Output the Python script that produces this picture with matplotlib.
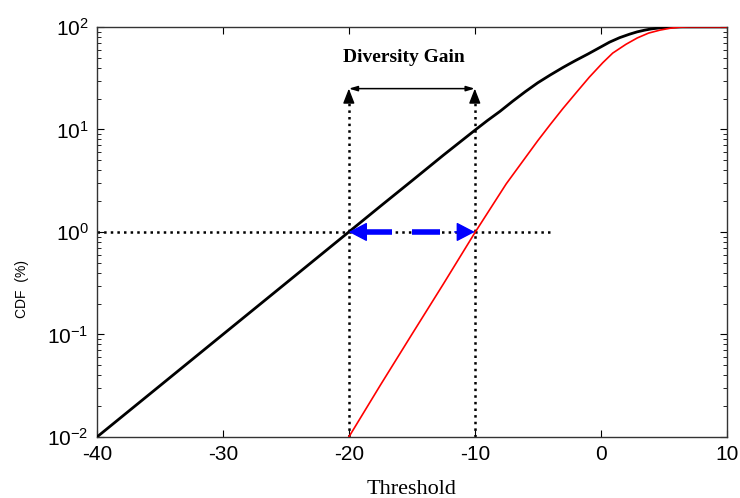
import matplotlib
matplotlib.use("Agg")
import matplotlib.pyplot as plt

# values
thr_single = [-40, -35, -30, -25, -20, -17.5, -15, -12.5, -10, -9, -8, -7, -6,
              -5, -4, -3, -2.5, -2, -1, 0.7, 1.5, 2.3, 2.9, 3.5, 4, 4.7, 5.5, 6.5, 10]
cdf_single = [0.01, 0.0316, 0.1, 0.316, 1.0, 1.78, 3.15, 5.6, 9.8, 12.2, 15.0, 18.8,
              23.3, 28.5, 34, 40.2, 43.5, 47, 54.5, 71, 78.5, 85, 89.5, 93, 95.5, 97.8,
              99.3, 100, 100]

thr_div = [-20, -17.5, -15, -12.5, -10, -7.5, -5, -4, -3, -1.9, -0.9, 0.16, 0.95, 2,
           2.9, 3.8, 4.7, 5.5, 6.3, 7, 10]
cdf_div = [0.01, 0.032, 0.1, 0.31, 0.98, 2.95, 7.76, 11.2, 16.0, 23.2, 32.4, 44.7,
           55.5, 67.6, 78, 87, 93, 97, 99.5, 100, 100]

gain_from, gain_to = -20, -10
ref_level = 1.0
arrow_level = 25
hline_end = -4

plt.rcParams["font.family"] = ["Liberation Sans", "DejaVu Sans"]
plt.rcParams["mathtext.fontset"] = "custom"
plt.rcParams["mathtext.rm"] = "Liberation Sans"
plt.rcParams["axes.unicode_minus"] = False

fig = plt.figure(figsize=(7.4, 4.98), dpi=100)
ax = fig.add_axes([0.131, 0.1225, 0.851, 0.8235])

ax.plot(thr_single, cdf_single, color="black", linewidth=2.0, zorder=3)
ax.plot(thr_div, cdf_div, color="red", linewidth=1.2, zorder=3)

# dotted guide lines
ax.plot([-40, hline_end], [ref_level, ref_level], color="black", linestyle=":",
        linewidth=1.8, zorder=2)
for xv in (gain_from, gain_to):
    ax.plot([xv, xv], [0.01, arrow_level * 0.9], color="black", linestyle=":",
            linewidth=1.8, zorder=2)
    ax.annotate("", xy=(xv, arrow_level), xytext=(xv, arrow_level * 0.8),
                arrowprops=dict(arrowstyle="-|>,head_length=0.9,head_width=0.35",
                                color="black", linewidth=1.0,
                                shrinkA=0, shrinkB=0), zorder=2)
ax.annotate("", xy=(gain_to, arrow_level), xytext=(gain_from, arrow_level),
            arrowprops=dict(arrowstyle="<|-|>,head_length=0.5,head_width=0.15",
                            color="black", linewidth=1.1, shrinkA=0, shrinkB=0))

# blue diversity gain arrow: two heads plus dashes
blue = "#0000ff"
ax.annotate("", xy=(gain_from, ref_level), xytext=(-18.6, ref_level),
            arrowprops=dict(arrowstyle="-|>,head_length=1.15,head_width=0.6",
                            color=blue, linewidth=1.0, shrinkA=0, shrinkB=0), zorder=4)
ax.annotate("", xy=(gain_to, ref_level), xytext=(-11.6, ref_level),
            arrowprops=dict(arrowstyle="-|>,head_length=1.15,head_width=0.6",
                            color=blue, linewidth=1.0, shrinkA=0, shrinkB=0), zorder=4)
ax.plot([-19.0, -16.6], [ref_level, ref_level], color=blue, linewidth=4,
        solid_capstyle="butt", zorder=4)
ax.plot([-15.0, -12.8], [ref_level, ref_level], color=blue, linewidth=4,
        solid_capstyle="butt", zorder=4)

ax.text(-15.6, 50, "Diversity Gain", family=["Liberation Serif"], fontweight="bold",
        fontsize=14, ha="center", va="center")

ax.set_yscale("log")
ax.set_xlim(-40, 10)
ax.set_ylim(0.01, 100)
ax.set_xticks([-40, -30, -20, -10, 0, 10])
ax.set_yticks([0.01, 0.1, 1, 10, 100])

ax.tick_params(which="both", direction="in", top=True, right=True, labelsize=15)
ax.tick_params(which="major", length=5, pad=6)
ax.tick_params(which="minor", length=3)
for spine in ax.spines.values():
    spine.set_linewidth(1.0)
    spine.set_color("#333333")

ax.set_xlabel("Threshold", family=["Liberation Serif"], fontsize=16, labelpad=11)
ax.set_ylabel("CDF  (%)", fontsize=10)
ax.yaxis.set_label_coords(-0.108, 0.36)

fig.savefig("out.png", dpi=100)
